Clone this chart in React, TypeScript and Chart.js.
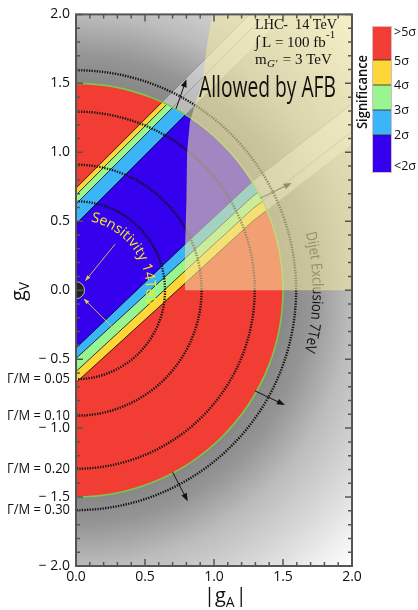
import React, { useEffect, useRef } from "react";
import { Chart, registerables } from "chart.js";
Chart.register(...registerables);

// ---- axis ranges and tick labels ----
const X_MIN = 0, X_MAX = 2;
const Y_MIN = -2, Y_MAX = 2;
const xTickValues = [0, 0.5, 1.0, 1.5, 2.0];
const yTickValues = [-2.0, -1.5, -1.0, -0.5, 0.0, 0.5, 1.0, 1.5, 2.0];

// ---- significance regions ----
const discRadius = 1.5;
const sigLabels = [">5σ", "5σ", "4σ", "3σ", "2σ", "<2σ"];
const sigColors = ["#f23d35", "#fdd738", "#98f590", "#3bb5f8", "#3500ee"]; // >5, 4-5, 3-4, 2-3, <2
// band boundaries: gV values sampled at bandGA
const bandGA = [0, 0.79, 1.28, 2.0];
const upperBounds = [
  [0.74, 1.53, 2.02, 2.74],     // red / yellow
  [0.69, 1.48, 1.97, 2.69],     // yellow / green
  [0.625, 1.415, 1.905, 2.625], // green / light blue
  [0.48, 1.27, 1.76, 2.48],     // light blue / blue
];
const lowerBounds = [
  [-0.42, 0.333, 0.79, 1.35],   // blue / light blue
  [-0.495, 0.23, 0.68, 1.24],   // light blue / green
  [-0.59, 0.14, 0.59, 1.15],    // green / yellow
  [-0.67, 0.05, 0.50, 1.06],    // yellow / red
];

// ---- width contours Γ/M ----
const widthRadii = [0.645, 0.91, 1.295, 1.595];
const widthLabels = ["Γ/M = 0.05", "Γ/M = 0.10", "Γ/M = 0.20", "Γ/M = 0.30"];

// ---- AFB allowed region outline (gA, gV) ----
const afbGA = [0.985, 0.95, 0.92, 0.87, 0.825, 0.805, 0.80, 0.79, 0.79, 2.0, 2.0];
const afbGV = [2.0, 1.78, 1.535, 1.37, 1.22, 1.0, 0.645, 0.28, 0.0, 0.0, 2.0];

// ---- arrows (tail gA, tail gV, head gA, head gV) ----
const blackArrowTailGA = [0.725, 1.333, 1.297, 0.70];
const blackArrowTailGV = [1.316, 0.666, -0.73, -1.32];
const blackArrowHeadGA = [0.80, 1.563, 1.514, 0.81];
const blackArrowHeadGV = [1.53, 0.777, -0.833, -1.53];
const yellowArrowTailGA = [0.283, 0.305];
const yellowArrowTailGV = [0.333, -0.31];
const yellowArrowHeadGA = [0.065, 0.055];
const yellowArrowHeadGV = [0.065, -0.06];
const originMarkerRadius = 0.062;

// ---- arc labels (radius, start angle, end angle in degrees) ----
const sensitivityText = "Sensitivity 14TeV";
const sensitivityArc = [0.51, 78, -12];
const dijetText = "Dijet Exclusion 7TeV";
const dijetArc = [1.715, 14, -15];

const FONT = "'Open Sans', 'DejaVu Sans', sans-serif";
const SERIF = "'Liberation Serif', 'DejaVu Serif', serif";

function fmt(v: number) {
  const a = Math.abs(v).toFixed(1);
  return v < -1e-9 ? "\u2212 " + a : a;
}

function arrow(ctx: CanvasRenderingContext2D, x1: number, y1: number, x2: number, y2: number, color: string, lw: number, hl: number, hw: number) {
  const ang = Math.atan2(y2 - y1, x2 - x1);
  ctx.save();
  ctx.strokeStyle = color;
  ctx.fillStyle = color;
  ctx.lineWidth = lw;
  ctx.beginPath();
  ctx.moveTo(x1, y1);
  ctx.lineTo(x2 - Math.cos(ang) * hl * 0.6, y2 - Math.sin(ang) * hl * 0.6);
  ctx.stroke();
  ctx.beginPath();
  ctx.moveTo(x2, y2);
  ctx.lineTo(x2 - Math.cos(ang) * hl - Math.sin(ang) * hw / 2, y2 - Math.sin(ang) * hl + Math.cos(ang) * hw / 2);
  ctx.lineTo(x2 - Math.cos(ang) * hl + Math.sin(ang) * hw / 2, y2 - Math.sin(ang) * hl - Math.cos(ang) * hw / 2);
  ctx.closePath();
  ctx.fill();
  ctx.restore();
}

// text along an arc centred on (cx, cy), tops outward, reading clockwise from startDeg to endDeg
function arcText(ctx: CanvasRenderingContext2D, text: string, cx: number, cy: number, R: number, startDeg: number, endDeg: number, font: string, color: string) {
  ctx.save();
  ctx.font = font;
  ctx.fillStyle = color;
  ctx.textBaseline = "alphabetic";
  ctx.textAlign = "left";
  const total = ctx.measureText(text).width;
  const arcLen = ((startDeg - endDeg) * Math.PI / 180) * R;
  const f = arcLen / total;
  let theta = (startDeg * Math.PI) / 180;
  for (const ch of text) {
    const w = ctx.measureText(ch).width * f;
    const tm = theta - w / (2 * R);
    const x = cx + R * Math.cos(tm);
    const y = cy - R * Math.sin(tm);
    ctx.save();
    ctx.translate(x, y);
    ctx.rotate(Math.PI / 2 - tm);
    ctx.scale(f, 1);
    ctx.fillText(ch, -w / (2 * f), 0);
    ctx.restore();
    theta -= w / R;
  }
  ctx.restore();
}

function fitText(ctx: CanvasRenderingContext2D, text: string, x: number, y: number, width: number, font: string, color: string, align: "left" | "right" = "left") {
  ctx.save();
  ctx.font = font;
  ctx.fillStyle = color;
  ctx.textAlign = "left";
  ctx.textBaseline = "alphabetic";
  const w = ctx.measureText(text).width;
  ctx.translate(align === "left" ? x : x - width, y);
  ctx.scale(width / w, 1);
  ctx.fillText(text, 0, 0);
  ctx.restore();
}

const drawPlugin = {
  id: "physicsDrawing",
  afterDraw(chart: any) {
    const ctx: CanvasRenderingContext2D = chart.ctx;
    const xs = chart.scales.x;
    const ys = chart.scales.y;
    const area = chart.chartArea;
    const px = (v: number) => xs.getPixelForValue(v);
    const py = (v: number) => ys.getPixelForValue(v);
    const cx = px(0), cy = py(0);
    const rx = (r: number) => px(r) - cx;
    const ry = (r: number) => cy - py(r);

    const halfDisc = (r: number) => {
      ctx.moveTo(cx, cy - ry(r));
      ctx.ellipse(cx, cy, rx(r), ry(r), 0, -Math.PI / 2, Math.PI / 2);
      ctx.closePath();
    };
    const bandPath = (up: number[], lo: number[]) => {
      ctx.beginPath();
      bandGA.forEach((a, i) => (i ? ctx.lineTo(px(a), py(up[i])) : ctx.moveTo(px(a), py(up[i]))));
      for (let i = bandGA.length - 1; i >= 0; i--) ctx.lineTo(px(bandGA[i]), py(lo[i]));
      ctx.closePath();
    };
    const polyline = (vals: number[]) => {
      ctx.beginPath();
      bandGA.forEach((a, i) => (i ? ctx.lineTo(px(a), py(vals[i])) : ctx.moveTo(px(a), py(vals[i]))));
    };

    ctx.save();
    ctx.beginPath();
    ctx.rect(area.left, area.top, area.right - area.left, area.bottom - area.top);
    ctx.clip();

    // gray background
    const R = rx(2.83);
    const g = ctx.createRadialGradient(cx, cy, 0, cx, cy, R);
    g.addColorStop(0, "#7c7c7c");
    g.addColorStop(0.53, "#878787");
    g.addColorStop(0.6, "#959595");
    g.addColorStop(0.707, "#bcbcbc");
    g.addColorStop(0.85, "#dcdcdc");
    g.addColorStop(1, "#ffffff");
    ctx.fillStyle = g;
    ctx.fillRect(area.left, area.top, area.right - area.left, area.bottom - area.top);

    // red disc + bands
    ctx.save();
    ctx.beginPath();
    halfDisc(discRadius);
    ctx.clip();
    ctx.fillStyle = sigColors[0];
    ctx.fillRect(area.left, area.top, area.right - area.left, area.bottom - area.top);
    for (let k = 0; k < 4; k++) {
      bandPath(upperBounds[k], lowerBounds[3 - k]);
      ctx.fillStyle = sigColors[k + 1];
      ctx.fill();
    }
    ctx.strokeStyle = "rgba(0,0,0,0.85)";
    ctx.lineWidth = 0.9;
    [...upperBounds, ...lowerBounds].forEach((b) => {
      polyline(b);
      ctx.stroke();
    });
    ctx.restore();

    // light stripes outside the disc
    ctx.save();
    ctx.beginPath();
    ctx.rect(area.left, area.top, area.right - area.left, area.bottom - area.top);
    halfDisc(discRadius);
    ctx.clip("evenodd");
    ctx.fillStyle = "rgba(255,255,255,0.42)";
    bandPath(upperBounds[0], upperBounds[3]);
    ctx.fill();
    bandPath(lowerBounds[0], lowerBounds[3]);
    ctx.fill();
    ctx.strokeStyle = "rgba(60,60,60,0.35)";
    ctx.lineWidth = 0.8;
    [upperBounds[0], upperBounds[2], lowerBounds[0], lowerBounds[2]].forEach((b) => {
      polyline(b);
      ctx.stroke();
    });
    ctx.restore();

    // green outline of the disc
    ctx.beginPath();
    ctx.ellipse(cx, cy, rx(discRadius), ry(discRadius), 0, -Math.PI / 2, Math.PI / 2);
    ctx.strokeStyle = "#7cc84a";
    ctx.lineWidth = 1.6;
    ctx.stroke();

    // dotted width contours
    ctx.save();
    ctx.setLineDash([1.3, 1.3]);
    ctx.strokeStyle = "#111";
    ctx.lineWidth = 2.4;
    widthRadii.forEach((r) => {
      ctx.beginPath();
      ctx.ellipse(cx, cy, rx(r), ry(r), 0, -Math.PI / 2, Math.PI / 2);
      ctx.stroke();
    });
    ctx.restore();

    // dijet label and black arrows
    arcText(ctx, dijetText, cx, cy, rx(dijetArc[0]), dijetArc[1], dijetArc[2], `15px ${FONT}`, "#111");
    for (let i = 0; i < blackArrowTailGA.length; i++) {
      arrow(ctx, px(blackArrowTailGA[i]), py(blackArrowTailGV[i]), px(blackArrowHeadGA[i]), py(blackArrowHeadGV[i]), "#111", 1, 8, 6);
    }

    // AFB allowed overlay
    ctx.beginPath();
    afbGA.forEach((a, i) => (i ? ctx.lineTo(px(a), py(afbGV[i])) : ctx.moveTo(px(a), py(afbGV[i]))));
    ctx.closePath();
    ctx.fillStyle = "rgba(240,231,160,0.58)";
    ctx.fill();

    // sensitivity label, arrows, origin marker
    arcText(ctx, sensitivityText, cx, cy, rx(sensitivityArc[0]), sensitivityArc[1], sensitivityArc[2], `14px ${FONT}`, "#f4ec20");
    for (let i = 0; i < yellowArrowTailGA.length; i++) {
      arrow(ctx, px(yellowArrowTailGA[i]), py(yellowArrowTailGV[i]), px(yellowArrowHeadGA[i]), py(yellowArrowHeadGV[i]), "#d8cf48", 0.9, 6, 4);
    }
    ctx.beginPath();
    halfDisc(originMarkerRadius);
    ctx.fillStyle = "#222";
    ctx.fill();
    ctx.strokeStyle = "#bbb";
    ctx.lineWidth = 1;
    ctx.stroke();
    ctx.restore();

    // frame and ticks
    ctx.save();
    ctx.strokeStyle = "#555";
    ctx.lineWidth = 1.5;
    for (let i = 0; i <= 20; i++) {
      const v = X_MIN + (i * (X_MAX - X_MIN)) / 20;
      const L = i % 5 === 0 ? 7 : 4;
      const x = px(v);
      ctx.beginPath();
      ctx.moveTo(x, area.bottom); ctx.lineTo(x, area.bottom - L);
      ctx.moveTo(x, area.top); ctx.lineTo(x, area.top + L);
      ctx.stroke();
    }
    for (let i = 0; i <= 40; i++) {
      const v = Y_MIN + (i * (Y_MAX - Y_MIN)) / 40;
      const L = i % 5 === 0 ? 7 : 4;
      const y = py(v);
      ctx.beginPath();
      ctx.moveTo(area.left, y); ctx.lineTo(area.left + L, y);
      ctx.moveTo(area.right, y); ctx.lineTo(area.right - L, y);
      ctx.stroke();
    }
    ctx.lineWidth = 2;
    ctx.strokeRect(area.left, area.top, area.right - area.left, area.bottom - area.top);
    ctx.restore();

    // Γ/M labels
    widthRadii.forEach((r, i) => {
      fitText(ctx, widthLabels[i], area.left - 6, py(-r) + 4, 63, `14px ${FONT}`, "#111", "right");
    });

    // axis titles
    ctx.save();
    ctx.fillStyle = "#111";
    ctx.textBaseline = "alphabetic";
    ctx.textAlign = "left";
    ctx.font = `20px ${FONT}`;
    ctx.fillText("|g", 204, 602);
    let w = ctx.measureText("|g").width;
    ctx.font = `14px ${FONT}`;
    ctx.fillText("A", 204 + w, 607);
    const wa = ctx.measureText("A").width;
    ctx.font = `20px ${FONT}`;
    ctx.fillText("|", 204 + w + wa + 1, 602);
    ctx.translate(25, 301);
    ctx.rotate(-Math.PI / 2);
    ctx.font = `20px ${FONT}`;
    ctx.fillText("g", 0, 0);
    w = ctx.measureText("g").width;
    ctx.font = `14px ${FONT}`;
    ctx.fillText("V", w, 4);
    ctx.restore();

    // annotation text
    fitText(ctx, "LHC-  14 TeV", 255, 29, 82, `15px ${SERIF}`, "#111");
    ctx.save();
    ctx.fillStyle = "#111";
    ctx.textBaseline = "alphabetic";
    ctx.font = `16px ${SERIF}`;
    ctx.fillText("\u222B", 255, 47);
    ctx.font = `15px ${SERIF}`;
    ctx.fillText("L = 100 fb", 262, 47);
    ctx.font = `11px ${SERIF}`;
    ctx.fillText("-1", 326, 38);
    ctx.font = `15px ${SERIF}`;
    ctx.fillText("m", 255, 64);
    ctx.font = `italic 11px ${SERIF}`;
    ctx.fillText("G\u2032", 267, 67);
    ctx.font = `15px ${SERIF}`;
    ctx.fillText(" = 3 TeV", 279, 64);
    ctx.restore();
    fitText(ctx, "Allowed by AFB", 199, 97, 137, `500 29px ${FONT}`, "#111");

    // colour-bar legend
    const barX = 373, barW = 18;
    const barEdges = [27, 60, 85, 110, 135, 172];
    for (let i = 0; i < 5; i++) {
      ctx.fillStyle = sigColors[i];
      ctx.fillRect(barX, barEdges[i], barW, barEdges[i + 1] - barEdges[i]);
    }
    ctx.strokeStyle = "rgba(40,40,40,0.8)";
    ctx.lineWidth = 1;
    for (let i = 1; i < 5; i++) {
      ctx.beginPath();
      ctx.moveTo(barX, barEdges[i]);
      ctx.lineTo(barX + barW, barEdges[i]);
      ctx.stroke();
    }
    ctx.strokeStyle = "rgba(200,160,170,0.7)";
    ctx.strokeRect(barX - 0.5, barEdges[0] - 0.5, barW + 1, barEdges[5] - barEdges[0] + 1);
    ctx.save();
    ctx.font = `12.5px ${FONT}`;
    ctx.fillStyle = "#111";
    ctx.textAlign = "left";
    ctx.textBaseline = "middle";
    const labelY = [32, 61, 85, 110, 135, 166];
    sigLabels.forEach((s, i) => ctx.fillText(s, 394, labelY[i]));
    ctx.translate(367, 92);
    ctx.rotate(-Math.PI / 2);
    ctx.font = `600 14px ${FONT}`;
    ctx.textAlign = "center";
    ctx.textBaseline = "alphabetic";
    const sw = ctx.measureText("Significance").width;
    ctx.scale(74 / sw, 1);
    ctx.fillText("Significance", 0, 0);
    ctx.restore();
  },
};

export default function App() {
  const ref = useRef<HTMLCanvasElement>(null);
  useEffect(() => {
    const canvas = ref.current!;
    const chart = new Chart(canvas, {
      type: "scatter",
      data: { datasets: [{ data: [] as any[], showLine: false }] },
      options: {
        responsive: false,
        animation: false,
        devicePixelRatio: 1,
        layout: { padding: { top: 13, right: 66, left: 0, bottom: 0 } },
        plugins: { legend: { display: false }, tooltip: { enabled: false } },
        scales: {
          x: {
            type: "linear",
            min: X_MIN,
            max: X_MAX,
            position: "bottom",
            afterFit: (s: any) => { s.height = 44; },
            afterBuildTicks: (s: any) => { s.ticks = xTickValues.map((v) => ({ value: v })); },
            ticks: { callback: (v: any) => fmt(Number(v)), font: { family: FONT, size: 14 }, color: "#111", padding: 3, maxRotation: 0, autoSkip: false },
            grid: { display: false, drawTicks: false },
            border: { display: false },
          },
          y: {
            type: "linear",
            min: Y_MIN,
            max: Y_MAX,
            position: "left",
            afterFit: (s: any) => { s.width = 76; },
            afterBuildTicks: (s: any) => { s.ticks = yTickValues.map((v) => ({ value: v })); },
            ticks: { callback: (v: any) => fmt(Number(v)), font: { family: FONT, size: 14 }, color: "#111", padding: 6, autoSkip: false },
            grid: { display: false, drawTicks: false },
            border: { display: false },
          },
        },
      } as any,
      plugins: [drawPlugin],
    });
    return () => chart.destroy();
  }, []);
  return (
    <div style={{ position: "fixed", left: 0, top: 0, width: 418, height: 610, background: "#fff" }}>
      <canvas ref={ref} width={418} height={610} style={{ display: "block", width: 418, height: 610 }} />
    </div>
  );
}
